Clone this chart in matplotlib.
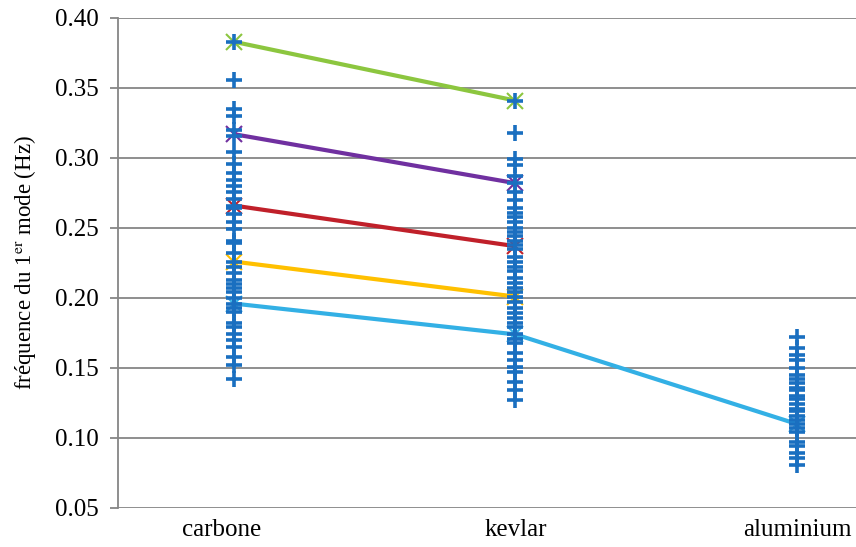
import matplotlib.pyplot as plt
from matplotlib.transforms import ScaledTranslation

# categories on the x axis
categories = ["carbone", "kevlar", "aluminium"]

# individual measurements (blue + markers)
carbone_vals = [0.383, 0.356, 0.335, 0.330, 0.320, 0.316, 0.304, 0.296, 0.289, 0.284,
                0.280, 0.276, 0.271, 0.266, 0.264, 0.260, 0.254, 0.249, 0.241, 0.239,
                0.232, 0.226, 0.222, 0.218, 0.213, 0.210, 0.207, 0.204, 0.200, 0.196,
                0.193, 0.190, 0.182, 0.179, 0.174, 0.170, 0.165, 0.158, 0.152, 0.142]
kevlar_vals = [0.341, 0.318, 0.299, 0.295, 0.287, 0.282, 0.276, 0.270, 0.264, 0.261,
               0.258, 0.254, 0.250, 0.247, 0.244, 0.241, 0.238, 0.235, 0.229, 0.226,
               0.222, 0.219, 0.214, 0.211, 0.207, 0.204, 0.201, 0.197, 0.193, 0.189,
               0.186, 0.182, 0.179, 0.174, 0.171, 0.168, 0.161, 0.156, 0.151, 0.147,
               0.140, 0.134, 0.127]
aluminium_vals = [0.172, 0.164, 0.159, 0.156, 0.150, 0.145, 0.142, 0.139, 0.136, 0.134,
                  0.130, 0.128, 0.124, 0.121, 0.119, 0.116, 0.113, 0.110, 0.107, 0.104,
                  0.097, 0.094, 0.089, 0.086, 0.081]

# highlighted series (lines with x markers)
green_line = [0.383, 0.341]
purple_line = [0.317, 0.282]
red_line = [0.266, 0.237]
yellow_line = [0.226, 0.201]
blue_line = [0.196, 0.174, 0.110]

yticks = [0.05, 0.10, 0.15, 0.20, 0.25, 0.30, 0.35, 0.40]

plt.rcParams['font.family'] = ['Liberation Serif', 'DejaVu Serif']
plt.rcParams['mathtext.fontset'] = 'stix'

fig = plt.figure(figsize=(8.56, 5.47), dpi=100)
ax = fig.add_axes([0.138, 0.0713, 0.862, 0.8958])

xs = [1, 2, 3]
for vals, col in [(green_line, "#8CC63F"), (purple_line, "#7030A0"),
                  (red_line, "#C0202A"), (yellow_line, "#FFC000"),
                  (blue_line, "#33B0E5")]:
    ax.plot(xs[:len(vals)], vals, color=col, lw=3, marker="x", ms=12, mew=1.5,
            zorder=2, solid_capstyle="butt")

grp = [carbone_vals, kevlar_vals, aluminium_vals]
for i, vals in enumerate(grp):
    ax.plot([xs[i]] * len(vals), vals, linestyle="none", marker="+", ms=12,
            mew=2.6, color="#1A6FC0", zorder=3)

ax.set_xlim(0.588, 3.21)
ax.set_ylim(0.05, 0.40)
ax.set_yticks(yticks)
ax.set_yticklabels([f"{t:.2f}" for t in yticks], fontsize=18)
ax.set_xticks(xs)
ax.set_xticklabels(categories, fontsize=18)
ax.tick_params(axis="x", length=0, pad=8)
ax.tick_params(axis="y", length=6, width=1.3, color="#868686", pad=8)
ax.yaxis.grid(True, color="#868686", lw=1.3)
ax.set_axisbelow(True)
for s in ["top", "right", "bottom"]:
    ax.spines[s].set_visible(False)
ax.spines["left"].set_color("#868686")
ax.spines["left"].set_linewidth(1.3)

# the first category label sits a bit left of its column in the original
lbl = ax.get_xticklabels()[0]
lbl.set_transform(lbl.get_transform() + ScaledTranslation(-0.12, 0, fig.dpi_scale_trans))

ax.set_ylabel("fréquence du 1$^{\\rm er}$ mode (Hz)", fontsize=16.5, labelpad=12)

fig.savefig("out.png", dpi=100)
